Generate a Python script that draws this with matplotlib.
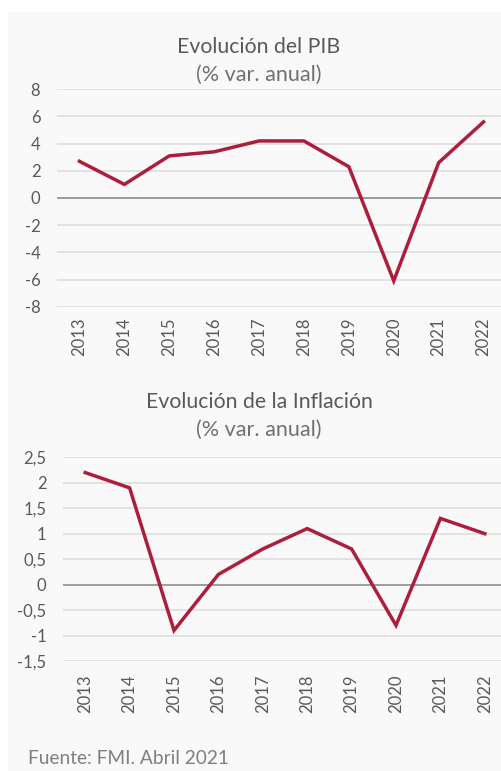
import matplotlib.pyplot as plt
from matplotlib.patches import Rectangle

years = ['2013', '2014', '2015', '2016', '2017', '2018', '2019', '2020', '2021', '2022']
pib = [2.7, 1.0, 3.1, 3.4, 4.2, 4.2, 2.3, -6.1, 2.6, 5.6]
inflacion = [2.2, 1.9, -0.9, 0.2, 0.7, 1.1, 0.7, -0.8, 1.3, 1.0]

pib_ticks = [-8, -6, -4, -2, 0, 2, 4, 6, 8]
inf_ticks = [-1.5, -1, -0.5, 0, 0.5, 1, 1.5, 2, 2.5]

line_col = '#ac1f3c'
text_col = '#595959'
W, H = 502, 771

plt.rcParams['font.family'] = ['Lato', 'DejaVu Sans']

fig = plt.figure(figsize=(W / 100, H / 100), dpi=100)
fig.patches.append(Rectangle((8 / W, 0), 1, 1 - 12 / H, transform=fig.transFigure,
                             facecolor='#f9f9f9', edgecolor='none', zorder=-10))


def panel(rect, values, ticks, title, title_y, sub_y, xpad):
    ax = fig.add_axes(rect)
    ax.set_facecolor('none')
    x = range(len(years))
    ax.plot(x, values, color=line_col, lw=2.5, solid_joinstyle='miter', zorder=3)
    ax.set_xlim(-0.5, len(years) - 0.5)
    ax.set_ylim(ticks[0], ticks[-1])
    ax.set_yticks(ticks)
    ax.set_yticklabels([('%g' % t).replace('.', ',') for t in ticks])
    ax.set_xticks(list(x))
    ax.set_xticklabels(years, rotation=90)
    for t in ticks:
        if t == 0:
            ax.axhline(0, color='#8c8c8c', lw=1.2, zorder=2)
        else:
            ax.axhline(t, color='#dedede', lw=1.2, zorder=1)
    for s in ax.spines.values():
        s.set_visible(False)
    ax.tick_params(length=0, labelsize=12, labelcolor=text_col)
    ax.tick_params(axis='x', pad=xpad)
    ax.tick_params(axis='y', pad=12)
    fig.text(0.516, 1 - title_y / H, title, ha='center', va='center',
             fontsize=15.3, color=text_col)
    fig.text(0.516, 1 - sub_y / H, '(% var. anual)', ha='center', va='center',
             fontsize=15.5, color='#707070')
    return ax


panel([57 / W, 1 - 306.7 / H, 449 / W, (306.7 - 89.3) / H], pib, pib_ticks,
      'Evolución del PIB', 47, 75, 8)
panel([63 / W, 1 - 661 / H, 444 / W, (661 - 457.3) / H], inflacion, inf_ticks,
      'Evolución de la Inflación', 402, 430, 10)

fig.text(28 / W, 1 - 758 / H, 'Fuente: FMI. Abril 2021', ha='left', va='center',
         fontsize=13.8, color='#7f7f7f')

fig.savefig('out.png', dpi=100)
